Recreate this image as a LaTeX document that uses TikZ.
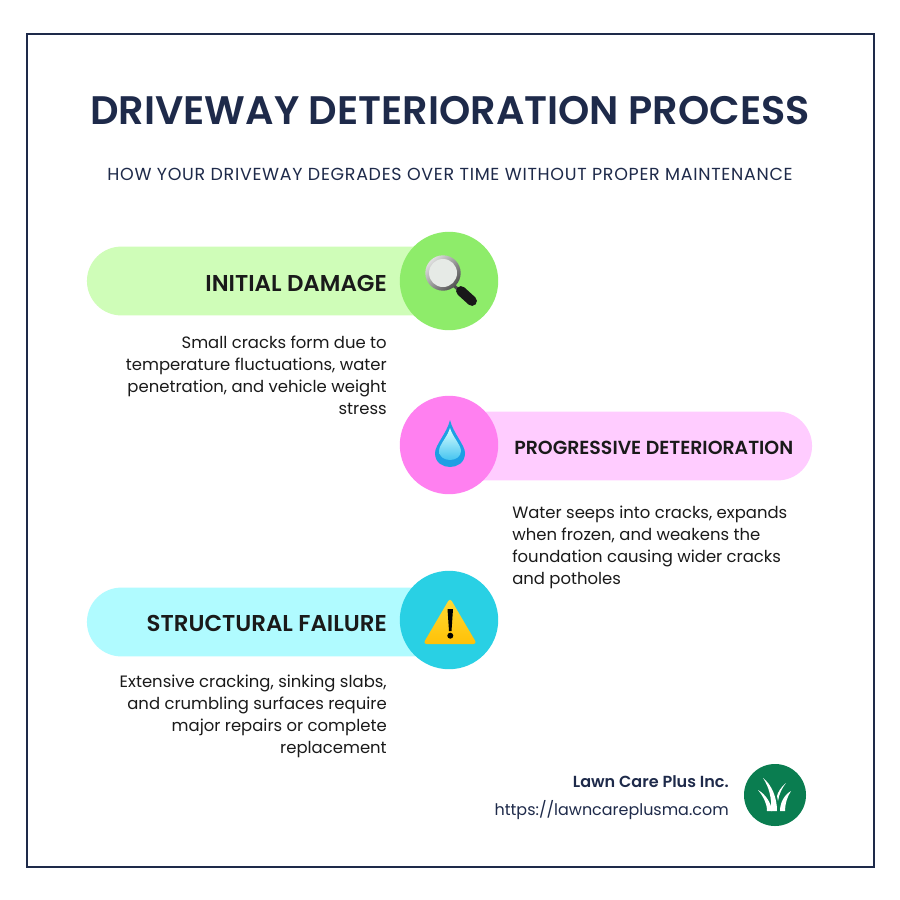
\documentclass[tikz,border=0pt]{standalone}
\usepackage{fontspec}
\setmainfont{Poppins}
\newfontfamily\semifont{Poppins SemiBold}
\usetikzlibrary{shapes.misc}
\definecolor{navy}{HTML}{1E2A4A}
\definecolor{inktext}{HTML}{1A1A1A}
\definecolor{pillgreen}{HTML}{CFFDB8}
\definecolor{dotgreen}{HTML}{8EEC6A}
\definecolor{pillpink}{HTML}{FFCCFF}
\definecolor{dotpink}{HTML}{FF80F0}
\definecolor{pillcyan}{HTML}{B0FBFF}
\definecolor{dotcyan}{HTML}{29D0E4}
\definecolor{logogreen}{HTML}{0A7D50}
\definecolor{dropblue}{HTML}{1E9FE4}
\definecolor{dropcyan}{HTML}{45C4F0}
\definecolor{signtop}{HTML}{FFDA35}
\definecolor{signlow}{HTML}{FFC107}
\tikzset{
	pill/.style={rounded rectangle,inner sep=0pt,minimum height=1.72cm},
	dot/.style={circle,inner sep=0pt,minimum size=2.46cm},
	steplabel/.style={anchor=base east,inner sep=0pt,text=inktext,font=\fontsize{16.3}{18}\semifont},
	bodytext/.style={anchor=north east,inner sep=0pt,align=right,text=inktext,font=\fontsize{11.7}{15.65}\selectfont},
}
\begin{document}
\begin{tikzpicture}[x=0.025cm,y=-0.025cm]
	\useasboundingbox (0,0) rectangle (900,900);
	\fill[white] (0,0) rectangle (900,900);
	\draw[navy,line width=1.4pt] (27,34) rectangle (874,867);

	\node (title) [anchor=base,inner sep=0pt,text=navy,font=\fontsize{28.3}{32}\semifont] at (450,124) {DRIVEWAY DETERIORATION PROCESS};
	\node (subtitle) [anchor=base,inner sep=0pt,text=navy,font=\fontsize{12.4}{14}\selectfont\addfontfeatures{LetterSpace=4.1}] at (450,180) {HOW YOUR DRIVEWAY DEGRADES OVER TIME WITHOUT PROPER MAINTENANCE};

	\node (pillA) [pill,fill=pillgreen,minimum width=9.05cm] at (268,281) {};
	\node (dotA) [dot,fill=dotgreen] at (449,281) {};
	\node (labelA) [steplabel] at (387,291) {INITIAL DAMAGE};
	\node (textA) [bodytext] at (387,336) {Small cracks form due to\\temperature fluctuations, water\\penetration, and vehicle weight\\stress};

	\node (pillB) [pill,fill=pillpink,minimum width=9.05cm] at (631,446) {};
	\node (dotB) [dot,fill=dotpink] at (449,445) {};
	\node (labelB) [steplabel,anchor=base west,font=\fontsize{13.45}{16}\semifont] at (514,454) {PROGRESSIVE DETERIORATION};
	\node (textB) [bodytext,anchor=north west,align=left] at (512,506) {Water seeps into cracks, expands\\when frozen, and weakens the\\foundation causing wider cracks\\and potholes};

	\node (pillC) [pill,fill=pillcyan,minimum width=9.05cm] at (268,622) {};
	\node (dotC) [dot,fill=dotcyan] at (449,620) {};
	\node (labelC) [steplabel] at (387,631) {STRUCTURAL FAILURE};
	\node (textC) [bodytext] at (387,675) {Extensive cracking, sinking slabs,\\and crumbling surfaces require\\major repairs or complete\\replacement};

	% magnifier
	\draw[gray!60!black,line width=2.2pt] (452,284) -- (460,291);
	\draw[black!90,line width=7pt,line cap=round] (461,291) -- (472,301);
	\shade[left color=gray!25,right color=gray!65!black,shading angle=45] (443,273) circle (17.7);
	\fill[green!10!gray!18] (443,273) circle (14);

	% water drop
	\fill[dropblue] (450,420) .. controls (453,433) and (465,445) .. (465,453) .. controls (465,463) and (457,467) .. (450,467) .. controls (443,467) and (435,463) .. (435,453) .. controls (435,445) and (447,433) .. (450,420) -- cycle;
	\shade[top color=white!85!cyan,bottom color=dropcyan] (450,428) .. controls (452,436) and (461,445) .. (461,451) .. controls (461,457) and (455,460) .. (450,460) .. controls (445,460) and (439,457) .. (439,451) .. controls (439,445) and (448,436) .. (450,428) -- cycle;

	% warning sign
	\shade[top color=signtop,bottom color=signlow,rounded corners=2.5pt] (450,598) -- (477,644) -- (423,644) -- cycle;
	\fill[black] (447.5,609) -- (453,609) -- (451.5,631) -- (449,631) -- cycle;
	\fill[black] (450.3,635.7) circle (3);

	% footer
	\node (company) [anchor=base east,inner sep=0pt,text=navy,font=\fontsize{11.4}{14}\semifont] at (729,787) {Lawn Care Plus Inc.};
	\node (website) [anchor=base east,inner sep=0pt,text=navy,font=\fontsize{11.35}{14}\selectfont] at (729,815) {https://lawncareplusma.com};
	\node (logo) [circle,inner sep=0pt,minimum size=1.55cm,fill=logogreen] at (775,795) {};
	\fill[white] (758,790) .. controls (765,794) and (771,802) .. (772,811) -- (767,811) .. controls (767,803) and (763,796) .. (758,790) -- cycle;
	\fill[white] (763,778) .. controls (772,785) and (777,798) .. (777,811) -- (771,811) .. controls (772,798) and (769,787) .. (763,778) -- cycle;
	\fill[white] (786,783) .. controls (781,787) and (778,792) .. (777,796) -- (778,801) .. controls (779,794) and (782,788) .. (786,783) -- cycle;
	\fill[white] (791,791) .. controls (784,795) and (780,803) .. (780,811) -- (785,811) .. controls (785,804) and (787,797) .. (791,791) -- cycle;
\end{tikzpicture}
\end{document}
